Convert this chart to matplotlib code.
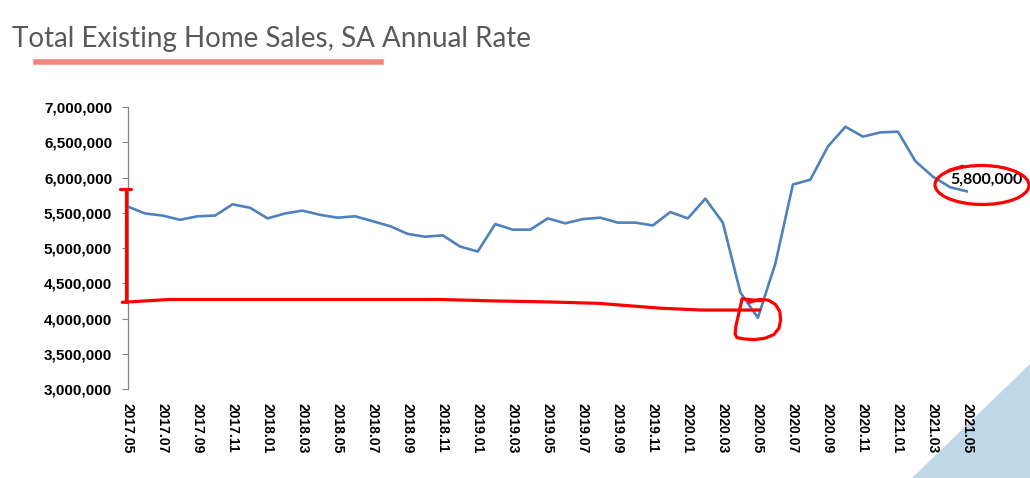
import numpy as np
import matplotlib.pyplot as plt
from matplotlib.patches import Polygon, Ellipse
from matplotlib.ticker import FuncFormatter

# monthly data, 2017.05 - 2021.05
months = []
for y in range(2017, 2022):
    for m in range(1, 13):
        if (y == 2017 and m < 5) or (y == 2021 and m > 5):
            continue
        months.append('%d.%02d' % (y, m))

sales = [5.59, 5.49, 5.46, 5.40, 5.45, 5.46, 5.62, 5.57, 5.42, 5.49,
         5.53, 5.47, 5.43, 5.45, 5.38, 5.31, 5.20, 5.16, 5.18, 5.02,
         4.95, 5.34, 5.26, 5.26, 5.42, 5.35, 5.41, 5.43, 5.36, 5.36,
         5.32, 5.51, 5.42, 5.70, 5.36, 4.37, 4.01, 4.78, 5.90, 5.97,
         6.44, 6.72, 6.58, 6.64, 6.65, 6.23, 6.01, 5.86, 5.80]
sales = [v * 1e6 for v in sales]

last_label = '5,800,000'
title = 'Total Existing Home Sales, SA Annual Rate'

# hand-drawn red marks (x in month index, y in sales units)
bracket_x = [-0.1, -0.1]
bracket_y = [5.83e6, 4.24e6]
base_x = [-0.3, 2.4, 17.8, 20.8, 24.1, 26.9, 30.5, 32.8, 36.1]
base_y = [4.23e6, 4.27e6, 4.27e6, 4.25e6, 4.235e6, 4.215e6, 4.145e6, 4.12e6, 4.12e6]
loop_x = [35.5, 36.1, 36.6, 37.0, 37.25, 37.3, 37.2, 36.9, 36.4, 35.8, 35.2, 34.8,
          34.7, 34.75, 34.9, 35.1, 36.2]
loop_y = [4.23e6, 4.27e6, 4.26e6, 4.20e6, 4.10e6, 3.98e6, 3.86e6, 3.77e6, 3.72e6,
          3.70e6, 3.71e6, 3.73e6, 3.78e6, 3.90e6, 4.06e6, 4.28e6, 4.25e6]
tail_x = [46.9, 47.7]
tail_y = [6.10e6, 6.16e6]

fig = plt.figure(figsize=(10.30, 4.78), dpi=100)

# light blue corner triangle
fig.patches.append(Polygon([[912 / 1030, 0], [1, 0], [1, 1 - 364 / 478]],
                           closed=True, transform=fig.transFigure,
                           facecolor='#bfd7e6', edgecolor='none', zorder=-1))

fig.text(12 / 1030, 1 - 46.5 / 478, title, fontsize=20, color='#595959',
         family='Lato', va='baseline', ha='left')
fig.add_artist(plt.Line2D([36 / 1030, 381 / 1030], [1 - 62.5 / 478] * 2,
                          color='#f4847e', lw=4, transform=fig.transFigure))

ax = fig.add_axes([127.5 / 1030, 89 / 478, 840.5 / 1030, 282 / 478])
ax.patch.set_alpha(0)
x = np.arange(len(months))
ax.plot(x, sales, color='#4f81bd', lw=1.9, zorder=3)

ax.set_xlim(0, 48)
ax.set_ylim(3e6, 7e6)
ax.set_yticks(np.arange(3e6, 7.01e6, 5e5))
ax.yaxis.set_major_formatter(FuncFormatter(lambda v, p: '{:,.0f}'.format(v)))
ax.set_xticks(x[::2])
ax.set_xticklabels(months[::2], rotation=270, fontsize=10, fontweight='bold',
                   family='Liberation Sans')
for lab in ax.get_yticklabels():
    lab.set_fontweight('bold')
    lab.set_fontsize(11)
    lab.set_family('Liberation Sans')

for s in ['top', 'right', 'bottom']:
    ax.spines[s].set_visible(False)
ax.spines['left'].set_color('#868686')
ax.spines['left'].set_linewidth(0.9)
ax.tick_params(axis='y', length=4, color='#868686', pad=7)
ax.tick_params(axis='x', length=0, pad=10)

ax.text(48 - 1.0, sales[-1] + 0.17e6, last_label, fontsize=11.5,
        family='Lato', fontweight='bold', va='center', ha='left', zorder=5)

red = dict(color='red', lw=2.3, clip_on=False, zorder=4, solid_capstyle='round')
ax.plot(bracket_x, bracket_y, **red)
ax.plot([-0.4, 0.2], [5.83e6, 5.83e6], **red)
ax.plot(base_x, base_y, **red)
ax.plot(loop_x, loop_y, **red)
ax.plot(tail_x, tail_y, **red)

# ellipse round the last value label, in pixels of the figure
ring = Ellipse((982 / 1030, 1 - 185 / 478), 94 / 1030, 39 / 478, angle=-3,
               transform=fig.transFigure, fill=False, edgecolor='red', lw=2.3)
fig.patches.append(ring)

plt.savefig('out.png', dpi=100)
